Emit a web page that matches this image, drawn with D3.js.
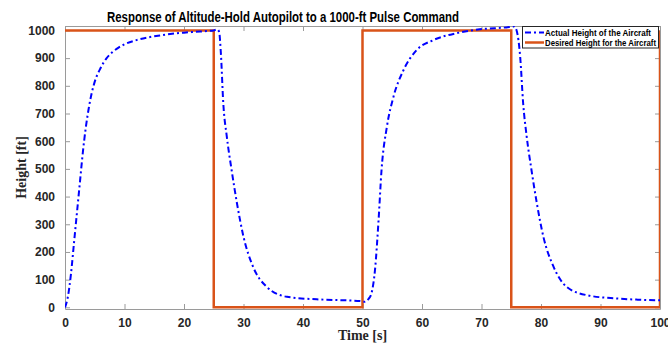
<!DOCTYPE html>
<html>
<head>
<meta charset="utf-8">
<script src="https://cdn.jsdelivr.net/npm/d3@7"></script>
<style>
  body { margin: 0; background: #fff; }
</style>
</head>
<body>
<div id="chart"></div>
<script>
/* Altitude-hold autopilot: pulse response */

// desired height (square pulse command)
const desiredTime = [0, 25, 25, 50, 50, 75, 75, 100, 100];
const desiredHeight = [1000, 1000, 0, 0, 1000, 1000, 0, 0, 1000];

// actual height
const actualTime = [0, 0.5, 1, 1.5, 2, 2.5, 3, 3.5, 4, 4.5, 5, 6, 7, 8, 9, 10, 12, 14, 16, 18, 20, 22, 24, 25,
    25.6, 25.9, 26.2, 26.6, 27.2, 28, 28.9, 30, 31.6, 33.9, 37.3, 42.3, 46, 49.6,
    50.4, 51, 51.5, 52.1, 52.7, 53.2, 54.1, 55.2, 56.9, 59.1, 61.9, 65.8, 69.7, 74.2,
    75.5, 75.9, 76.5, 77, 77.6, 78.4, 79.3, 80.4, 82.1, 84.3, 87.7, 92.7, 96, 99.4, 100];
const actualHeight = [0, 40, 120, 230, 340, 450, 560, 650, 720, 775, 815, 865, 900, 922, 938, 950, 965, 975, 982, 988, 992, 995, 998, 1000,
    1004, 995, 917, 738, 616, 496, 376, 255, 147, 74, 38, 29, 26, 23,
    20, 30, 50, 135, 315, 496, 652, 760, 857, 929, 965, 990, 1004, 1011,
    1014, 1000, 905, 737, 616, 496, 376, 255, 147, 74, 44, 32, 28, 26, 26];

const xTicks = [0, 10, 20, 30, 40, 50, 60, 70, 80, 90, 100];
const yTicks = [0, 100, 200, 300, 400, 500, 600, 700, 800, 900, 1000];

const seriesNames = ["Actual Height of the Aircraft", "Desired Height for the Aircraft"];

const width = 668, height = 347,
      margin = ({top: 26, right: 8, bottom: 38, left: 65});

let svg = d3.select("#chart")
    .append("svg")
    .attr("width", width)
    .attr("height", height)
    .attr("viewBox", [0, 0, width, height]);

let x = d3.scaleLinear()
    .domain([0, 100])
    .range([margin.left, width - margin.right]);

let y = d3.scaleLinear()
    .domain([-6, 1016])
    .range([height - margin.bottom, margin.top]);

const axisColor = "#9a9a9a";
const tickFont = "'Liberation Sans', Arial, sans-serif";

// clip to the axes box
svg.append("clipPath").attr("id", "plotclip")
    .append("rect")
    .attr("x", x(0)).attr("y", y(1016))
    .attr("width", x(100) - x(0)).attr("height", y(-6) - y(1016));

// axes (ticks pointing inward like matlab)
let gx = svg.append("g")
    .attr("transform", `translate(0,${y(-6)})`)
    .call(d3.axisBottom(x).tickValues(xTicks).tickFormat(d3.format("d")).tickSizeInner(-5).tickSizeOuter(0).tickPadding(9));
let gxTop = svg.append("g")
    .attr("transform", `translate(0,${y(1016)})`)
    .call(d3.axisTop(x).tickValues(xTicks).tickSizeInner(-5).tickSizeOuter(0).tickFormat(""));
let gy = svg.append("g")
    .attr("transform", `translate(${x(0)},0)`)
    .call(d3.axisLeft(y).tickValues(yTicks).tickFormat(d3.format("d")).tickSizeInner(-5).tickSizeOuter(0).tickPadding(10));
let gyRight = svg.append("g")
    .attr("transform", `translate(${x(100)},0)`)
    .call(d3.axisRight(y).tickValues(yTicks).tickSizeInner(-5).tickSizeOuter(0).tickFormat(""));

for (let g of [gx, gxTop, gy, gyRight]) {
    g.select(".domain").attr("stroke", axisColor).attr("stroke-width", 1);
    g.selectAll(".tick line").attr("stroke", axisColor);
    g.selectAll(".tick text")
        .attr("fill", "#262626")
        .attr("font-family", tickFont)
        .attr("font-weight", "bold")
        .attr("font-size", 12);
}

// desired height: orange step line
let desired = desiredTime.map((t, i) => [t, desiredHeight[i]]);
svg.append("path")
    .datum(desired)
    .attr("clip-path", "url(#plotclip)")
    .attr("fill", "none")
    .attr("stroke", "#D95319")
    .attr("stroke-width", 2.5)
    .attr("d", d3.line().x(d => x(d[0])).y(d => y(d[1])));

// actual height: blue dash-dot
let actual = actualTime.map((t, i) => [t, actualHeight[i]]);
svg.append("path")
    .datum(actual)
    .attr("clip-path", "url(#plotclip)")
    .attr("fill", "none")
    .attr("stroke", "#0000FF")
    .attr("stroke-width", 2)
    .attr("stroke-dasharray", "6,3,2,3")
    .attr("d", d3.line().curve(d3.curveMonotoneX).x(d => x(d[0])).y(d => y(d[1])));

// title
svg.append("text")
    .attr("x", 283)
    .attr("y", 22)
    .attr("text-anchor", "middle")
    .attr("font-family", tickFont)
    .attr("font-weight", "bold")
    .attr("font-size", 14.5)
    .attr("textLength", 352)
    .attr("lengthAdjust", "spacingAndGlyphs")
    .attr("fill", "#000")
    .text("Response of Altitude-Hold Autopilot to a 1000-ft Pulse Command");

// axis labels
svg.append("text")
    .attr("x", (x(0) + x(100)) / 2)
    .attr("y", 340)
    .attr("text-anchor", "middle")
    .attr("font-family", "'Liberation Serif', 'Times New Roman', serif")
    .attr("font-weight", "bold")
    .attr("font-size", 14)
    .attr("fill", "#262626")
    .text("Time [s]");

svg.append("text")
    .attr("transform", `translate(26,${(y(-6) + y(1016)) / 2}) rotate(-90)`)
    .attr("text-anchor", "middle")
    .attr("font-family", "'Liberation Serif', 'Times New Roman', serif")
    .attr("font-weight", "bold")
    .attr("font-size", 14)
    .attr("fill", "#262626")
    .text("Height [ft]");

// legend
let legend = svg.append("g");
legend.append("rect")
    .attr("x", 522.5).attr("y", 26.5)
    .attr("width", 136).attr("height", 21.5)
    .attr("fill", "#fff")
    .attr("stroke", "#262626")
    .attr("stroke-width", 1);

const legendStyles = [
    {stroke: "#0000FF", width: 2, dash: "6,3,2,3"},
    {stroke: "#D95319", width: 2.5, dash: null}
];
seriesNames.forEach((name, i) => {
    let yy = 32.5 + i * 10;
    legend.append("line")
        .attr("x1", 525).attr("x2", 544)
        .attr("y1", yy).attr("y2", yy)
        .attr("stroke", legendStyles[i].stroke)
        .attr("stroke-width", legendStyles[i].width)
        .attr("stroke-dasharray", legendStyles[i].dash);
    legend.append("text")
        .attr("x", 545)
        .attr("y", yy + 3)
        .attr("font-family", tickFont)
        .attr("font-weight", "bold")
        .attr("font-size", 8.5)
        .attr("textLength", i == 0 ? 106 : 111)
        .attr("lengthAdjust", "spacingAndGlyphs")
        .attr("fill", "#000")
        .text(name);
});
</script>
</body>
</html>
